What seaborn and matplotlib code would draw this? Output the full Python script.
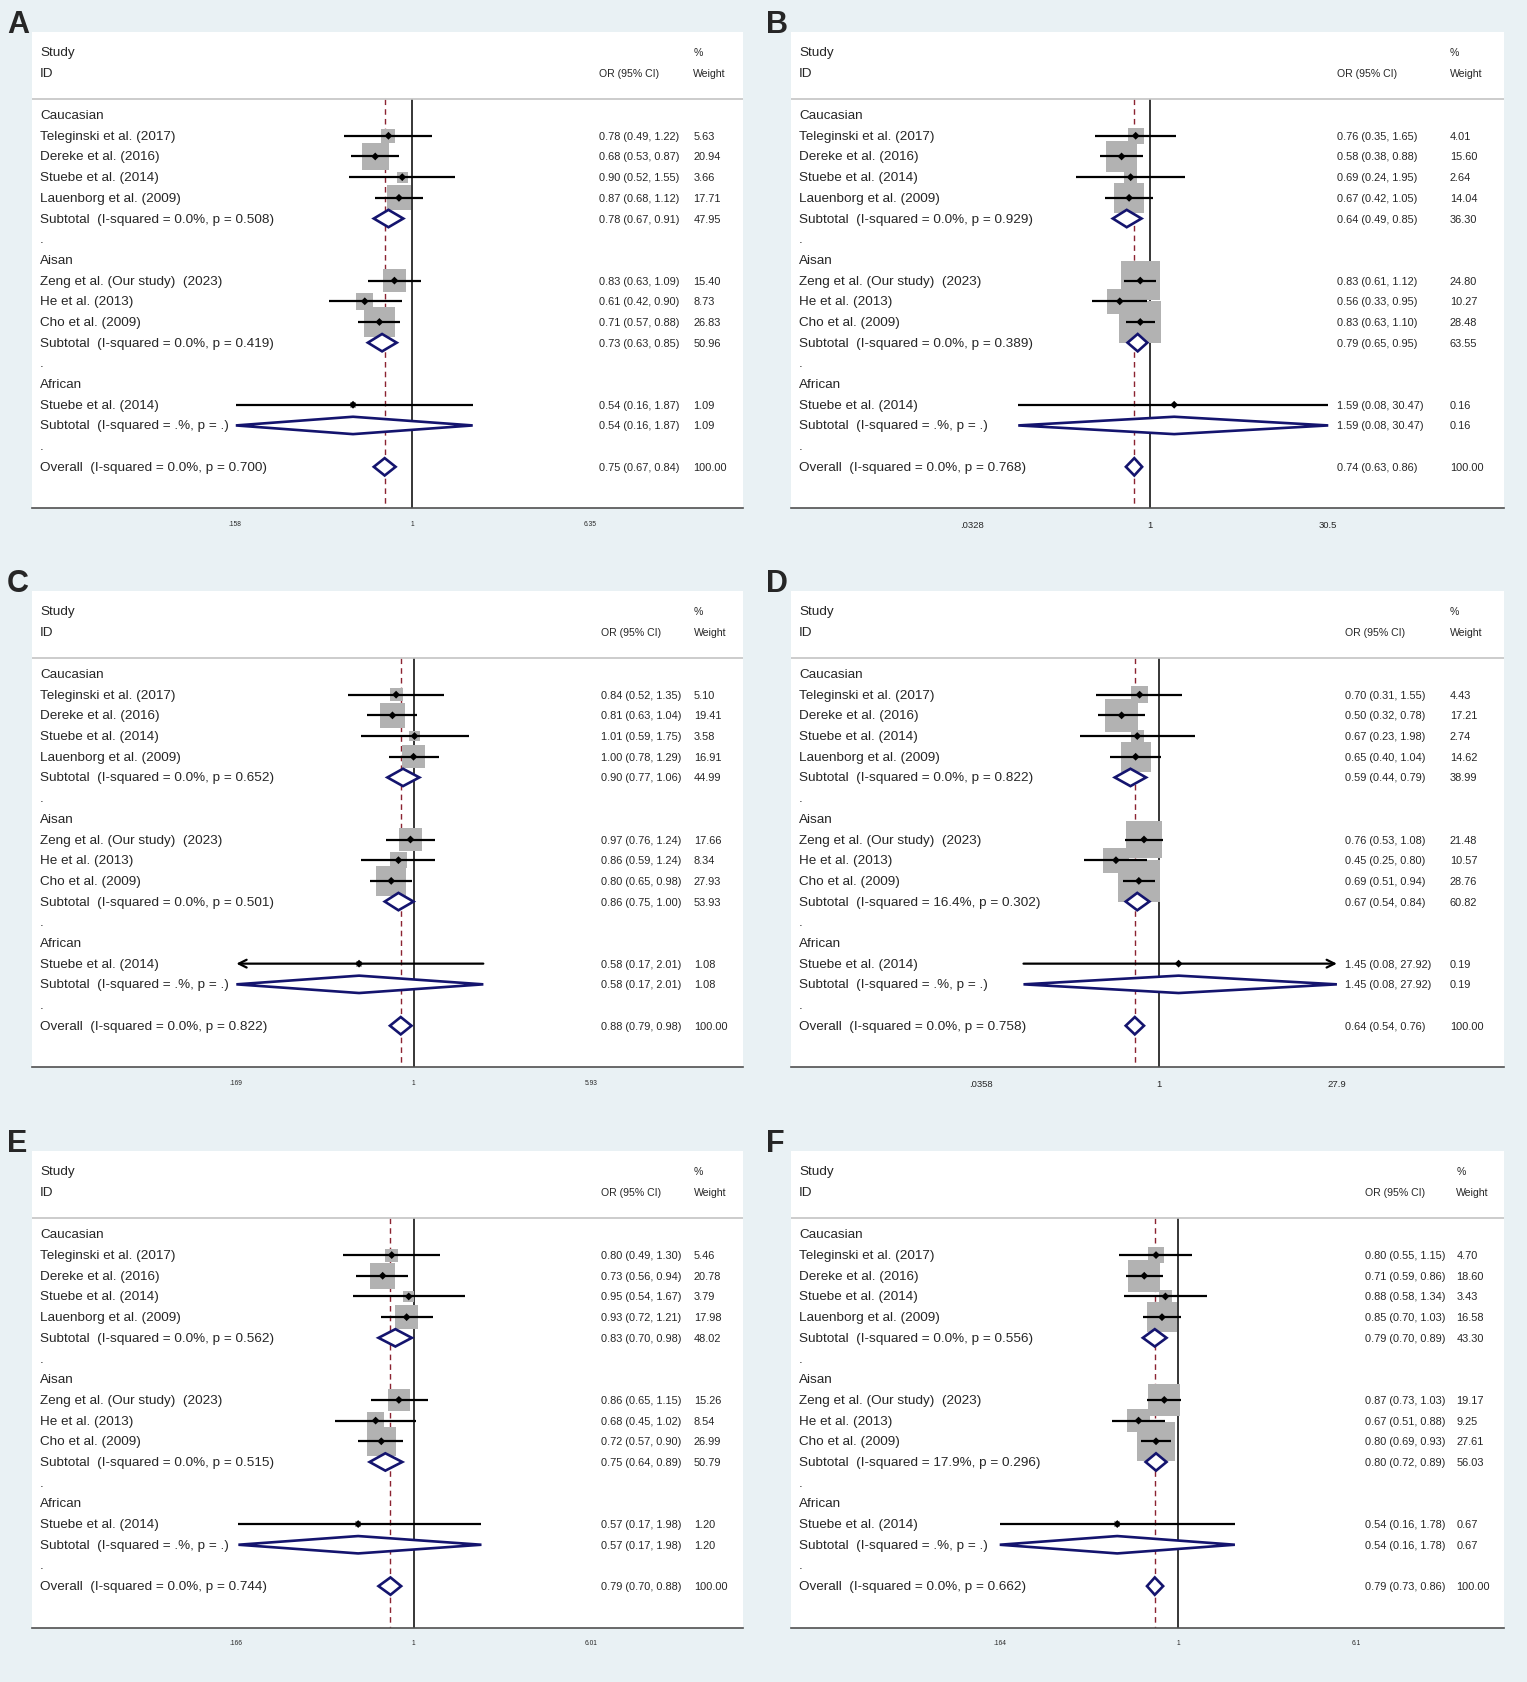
import numpy as np
import pandas as pd
import seaborn as sns
import matplotlib.pyplot as plt
from matplotlib.transforms import blended_transform_factory

# shared row labels
GROUPS = ["Caucasian", "Aisan", "African"]
STUDIES = [
    ["Teleginski et al. (2017)", "Dereke et al. (2016)", "Stuebe et al. (2014)", "Lauenborg et al. (2009)"],
    ["Zeng et al. (Our study)  (2023)", "He et al. (2013)", "Cho et al. (2009)"],
    ["Stuebe et al. (2014)"],
]

# per panel: studies + subtotals in row order, overall last
OR_A = [0.78, 0.68, 0.90, 0.87, 0.78, 0.83, 0.61, 0.71, 0.73, 0.54, 0.54, 0.75]
LO_A = [0.49, 0.53, 0.52, 0.68, 0.67, 0.63, 0.42, 0.57, 0.63, 0.16, 0.16, 0.67]
HI_A = [1.22, 0.87, 1.55, 1.12, 0.91, 1.09, 0.90, 0.88, 0.85, 1.87, 1.87, 0.84]
WT_A = [5.63, 20.94, 3.66, 17.71, 47.95, 15.40, 8.73, 26.83, 50.96, 1.09, 1.09, 100.00]
I2_A = ["0.0", "0.0", ".", "0.0"]
P_A = ["0.508", "0.419", ".", "0.700"]
TICKS_A = [0.158, 1, 6.35]
TICKLAB_A = [".158", "1", "6.35"]

OR_B = [0.76, 0.58, 0.69, 0.67, 0.64, 0.83, 0.56, 0.83, 0.79, 1.59, 1.59, 0.74]
LO_B = [0.35, 0.38, 0.24, 0.42, 0.49, 0.61, 0.33, 0.63, 0.65, 0.08, 0.08, 0.63]
HI_B = [1.65, 0.88, 1.95, 1.05, 0.85, 1.12, 0.95, 1.10, 0.95, 30.47, 30.47, 0.86]
WT_B = [4.01, 15.60, 2.64, 14.04, 36.30, 24.80, 10.27, 28.48, 63.55, 0.16, 0.16, 100.00]
I2_B = ["0.0", "0.0", ".", "0.0"]
P_B = ["0.929", "0.389", ".", "0.768"]
TICKS_B = [0.0328, 1, 30.5]
TICKLAB_B = [".0328", "1", "30.5"]

OR_C = [0.84, 0.81, 1.01, 1.00, 0.90, 0.97, 0.86, 0.80, 0.86, 0.58, 0.58, 0.88]
LO_C = [0.52, 0.63, 0.59, 0.78, 0.77, 0.76, 0.59, 0.65, 0.75, 0.17, 0.17, 0.79]
HI_C = [1.35, 1.04, 1.75, 1.29, 1.06, 1.24, 1.24, 0.98, 1.00, 2.01, 2.01, 0.98]
WT_C = [5.10, 19.41, 3.58, 16.91, 44.99, 17.66, 8.34, 27.93, 53.93, 1.08, 1.08, 100.00]
I2_C = ["0.0", "0.0", ".", "0.0"]
P_C = ["0.652", "0.501", ".", "0.822"]
TICKS_C = [0.169, 1, 5.93]
TICKLAB_C = [".169", "1", "5.93"]

OR_D = [0.70, 0.50, 0.67, 0.65, 0.59, 0.76, 0.45, 0.69, 0.67, 1.45, 1.45, 0.64]
LO_D = [0.31, 0.32, 0.23, 0.40, 0.44, 0.53, 0.25, 0.51, 0.54, 0.08, 0.08, 0.54]
HI_D = [1.55, 0.78, 1.98, 1.04, 0.79, 1.08, 0.80, 0.94, 0.84, 27.92, 27.92, 0.76]
WT_D = [4.43, 17.21, 2.74, 14.62, 38.99, 21.48, 10.57, 28.76, 60.82, 0.19, 0.19, 100.00]
I2_D = ["0.0", "16.4", ".", "0.0"]
P_D = ["0.822", "0.302", ".", "0.758"]
TICKS_D = [0.0358, 1, 27.9]
TICKLAB_D = [".0358", "1", "27.9"]

OR_E = [0.80, 0.73, 0.95, 0.93, 0.83, 0.86, 0.68, 0.72, 0.75, 0.57, 0.57, 0.79]
LO_E = [0.49, 0.56, 0.54, 0.72, 0.70, 0.65, 0.45, 0.57, 0.64, 0.17, 0.17, 0.70]
HI_E = [1.30, 0.94, 1.67, 1.21, 0.98, 1.15, 1.02, 0.90, 0.89, 1.98, 1.98, 0.88]
WT_E = [5.46, 20.78, 3.79, 17.98, 48.02, 15.26, 8.54, 26.99, 50.79, 1.20, 1.20, 100.00]
I2_E = ["0.0", "0.0", ".", "0.0"]
P_E = ["0.562", "0.515", ".", "0.744"]
TICKS_E = [0.166, 1, 6.01]
TICKLAB_E = [".166", "1", "6.01"]

OR_F = [0.80, 0.71, 0.88, 0.85, 0.79, 0.87, 0.67, 0.80, 0.80, 0.54, 0.54, 0.79]
LO_F = [0.55, 0.59, 0.58, 0.70, 0.70, 0.73, 0.51, 0.69, 0.72, 0.16, 0.16, 0.73]
HI_F = [1.15, 0.86, 1.34, 1.03, 0.89, 1.03, 0.88, 0.93, 0.89, 1.78, 1.78, 0.86]
WT_F = [4.70, 18.60, 3.43, 16.58, 43.30, 19.17, 9.25, 27.61, 56.03, 0.67, 0.67, 100.00]
I2_F = ["0.0", "17.9", ".", "0.0"]
P_F = ["0.556", "0.296", ".", "0.662"]
TICKS_F = [0.164, 1, 6.1]
TICKLAB_F = [".164", "1", "6.1"]

# panels with a clipped CI (arrow on the African study row)
ARROWS = {"C": "left", "D": "right"}

BG = "#e9f1f4"
GRAY = "#b2b2b2"
NAVY = "#14146e"
MAROON = "#8b2331"
W, H = 1527, 1683

# layout: (left px, top px, frac of "1", box px per sqrt(weight), tick fs, OR col, weight col)
LAYOUT = {
    "A": (32, 32.7, 0.535, 5.9, 4.8, 0.798, 0.930),
    "B": (791, 32.7, 0.5035, 7.9, 6.8, 0.766, 0.924),
    "C": (32, 591.6, 0.5366, 5.7, 4.8, 0.800, 0.931),
    "D": (791, 591.6, 0.5157, 7.8, 6.8, 0.777, 0.924),
    "E": (32, 1152, 0.537, 5.6, 4.8, 0.800, 0.931),
    "F": (791, 1152, 0.5428, 7.35, 4.8, 0.805, 0.933),
}
BOX_W = {"A": 711, "B": 713, "C": 711, "D": 713, "E": 711, "F": 713}
BOX_H = 476.5
ROW_TOP, ROW_BOT = -4.03, 19.0
LAB_FS = 9.7
VAL_FS = 7.9


def build_rows(i2, p):
    rows = []
    r, k = 0, 0
    for gi, (g, names) in enumerate(zip(GROUPS, STUDIES)):
        rows.append((r, g, "group", None)); r += 1
        for n in names:
            rows.append((r, n, "study", k)); r += 1; k += 1
        rows.append((r, f"Subtotal  (I-squared = {i2[gi]}%, p = {p[gi]})", "sub", k)); r += 1; k += 1
        rows.append((r, ".", "blank", None)); r += 1
    rows.append((r, f"Overall  (I-squared = {i2[3]}%, p = {p[3]})", "overall", k))
    return rows


def draw_panel(fig, letter, orv, lov, hiv, wt, i2, p, ticks, ticklab):
    left, top, f1, bk, tfs, c_or, c_wt = LAYOUT[letter]
    bw = BOX_W[letter]
    ax = fig.add_axes([left / W, 1 - (top + BOX_H) / H, bw / W, BOX_H / H])
    ax.set_facecolor("white")
    ax.set_xscale("log")
    L = -np.log(ticks[0])
    d = 0.25
    ax.set_xlim(np.exp(-f1 / d * L), np.exp((1 - f1) / d * L))
    ax.set_ylim(ROW_BOT, ROW_TOP)
    tr = blended_transform_factory(ax.transAxes, ax.transData)

    rows = build_rows(i2, p)
    df = pd.DataFrame([(r, lab, kind, k) for r, lab, kind, k in rows],
                      columns=["row", "label", "kind", "k"])
    vals = df[df["k"].notna()].copy()
    vals["k"] = vals["k"].astype(int)
    vals["or"] = [orv[k] for k in vals["k"]]
    vals["lo"] = [max(lov[k], ticks[0]) for k in vals["k"]]
    vals["hi"] = [min(hiv[k], ticks[2]) for k in vals["k"]]
    vals["wt"] = [wt[k] for k in vals["k"]]

    # header
    ax.axhline(-0.77, color="#c4c4c4", lw=1.2)
    for yy, t in [(-3.04, "Study"), (-2.03, "ID")]:
        ax.text(0.0115, yy, t, transform=tr, fontsize=LAB_FS, va="center", ha="left")
    ax.text(c_or, -2.03, "OR (95% CI)", transform=tr, fontsize=7.6, va="center")
    ax.text(c_wt, -3.04, "%", transform=tr, fontsize=7.6, va="center")
    ax.text(c_wt, -2.03, "Weight", transform=tr, fontsize=7.6, va="center")

    # reference lines
    overall = orv[-1]
    ax.vlines(1, -0.77, ROW_BOT, color="black", lw=1.1, zorder=1)
    ax.vlines(overall, -0.77, ROW_BOT, color=MAROON, lw=1.0,
              linestyles=(0, (4, 3)), zorder=1)

    st = vals[vals["kind"] == "study"].copy()
    st["s"] = (bk * np.sqrt(st["wt"]) * 0.72) ** 2
    sns.scatterplot(data=st, x="or", y="row", s=st["s"].values, marker="s",
                    color=GRAY, linewidth=0, edgecolor="none", ax=ax, zorder=2,
                    legend=False)
    arrow = ARROWS.get(letter, "")
    for _, rw in st.iterrows():
        is_last = rw["k"] == 9
        if is_last and arrow:
            if arrow == "left":
                start, end = rw["hi"], rw["lo"]
            else:
                start, end = rw["lo"], rw["hi"]
            ax.annotate("", xy=(end, rw["row"]), xytext=(start, rw["row"]),
                        arrowprops=dict(arrowstyle="->", lw=1.6, color="black",
                                        mutation_scale=14, shrinkA=0, shrinkB=0),
                        zorder=3)
        else:
            ax.hlines(rw["row"], rw["lo"], rw["hi"], color="black", lw=1.6, zorder=3)
    sns.scatterplot(data=st, x="or", y="row", s=16, marker="D", color="black",
                    linewidth=0, edgecolor="none", ax=ax, zorder=4, legend=False)

    dm = vals[vals["kind"].isin(["sub", "overall"])]
    for _, rw in dm.iterrows():
        y = rw["row"]
        ax.fill([rw["lo"], rw["or"], rw["hi"], rw["or"]],
                [y, y - 0.42, y, y + 0.42], facecolor="white",
                edgecolor=NAVY, lw=1.9, zorder=3, joinstyle="miter")

    # text columns
    for _, rw in df.iterrows():
        ax.text(0.0115, rw["row"], rw["label"], transform=tr, fontsize=LAB_FS,
                va="center", ha="left")
    for _, rw in vals.iterrows():
        k = rw["k"]
        ax.text(c_or, rw["row"], f"{orv[k]:.2f} ({lov[k]:.2f}, {hiv[k]:.2f})",
                transform=tr, fontsize=VAL_FS, va="center", ha="left")
        ax.text(c_wt, rw["row"], f"{wt[k]:.2f}", transform=tr, fontsize=VAL_FS,
                va="center", ha="left")

    # axis
    for s in ["top", "left", "right"]:
        ax.spines[s].set_visible(False)
    ax.spines["bottom"].set_color("#505050")
    ax.spines["bottom"].set_linewidth(1.2)
    ax.set_yticks([])
    ax.set_xticks(ticks)
    ax.set_xticklabels(ticklab)
    ax.xaxis.set_minor_locator(plt.NullLocator())
    ax.tick_params(axis="x", direction="out", length=5, width=1, color="#505050",
                   labelsize=tfs, pad=3.5)
    ax.set_xlabel("")
    ax.set_ylabel("")

    fig.text((left - 25) / W, 1 - top / H, letter, fontsize=22, fontweight="bold",
             ha="left", va="baseline")
    return ax


def main():
    sns.set_theme(style="white")
    plt.rcParams["font.family"] = ["Liberation Sans", "DejaVu Sans"]
    fig = plt.figure(figsize=(W / 100, H / 100), dpi=100, facecolor=BG)

    draw_panel(fig, "A", OR_A, LO_A, HI_A, WT_A, I2_A, P_A, TICKS_A, TICKLAB_A)
    draw_panel(fig, "B", OR_B, LO_B, HI_B, WT_B, I2_B, P_B, TICKS_B, TICKLAB_B)
    draw_panel(fig, "C", OR_C, LO_C, HI_C, WT_C, I2_C, P_C, TICKS_C, TICKLAB_C)
    draw_panel(fig, "D", OR_D, LO_D, HI_D, WT_D, I2_D, P_D, TICKS_D, TICKLAB_D)
    draw_panel(fig, "E", OR_E, LO_E, HI_E, WT_E, I2_E, P_E, TICKS_E, TICKLAB_E)
    draw_panel(fig, "F", OR_F, LO_F, HI_F, WT_F, I2_F, P_F, TICKS_F, TICKLAB_F)

    fig.savefig("out.png", dpi=100, facecolor=BG)


if __name__ == "__main__":
    main()
